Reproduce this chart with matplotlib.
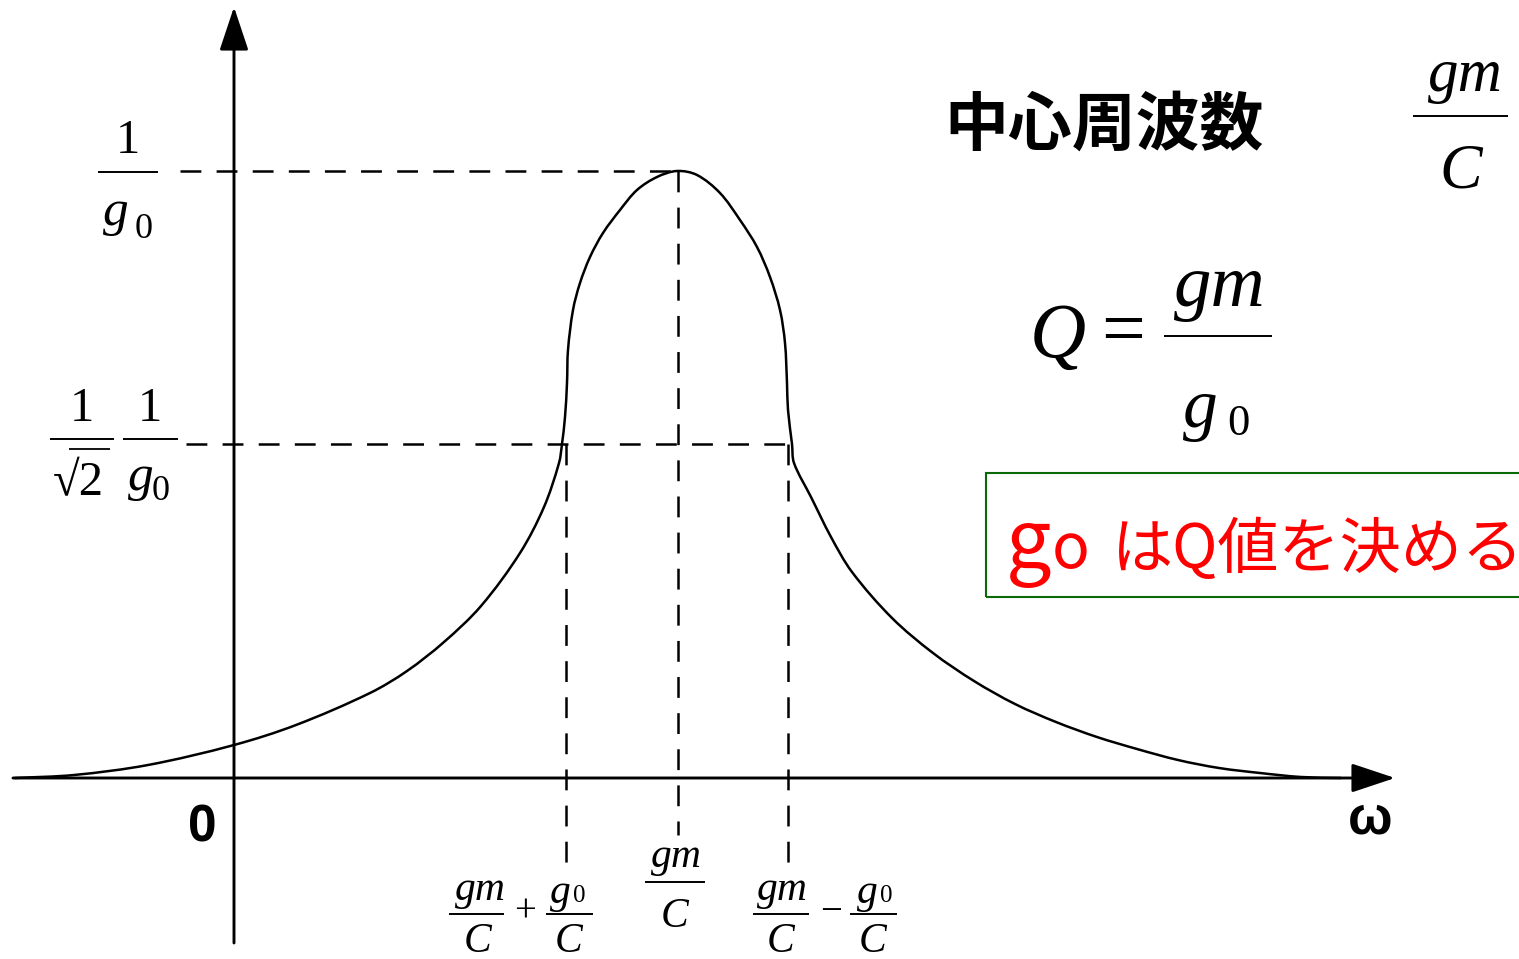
import matplotlib
matplotlib.use("Agg")
import numpy as np
import matplotlib.pyplot as plt
from matplotlib.patches import FancyArrowPatch, Rectangle, PathPatch
from matplotlib.path import Path

plt.rcParams["lines.scale_dashes"] = False

# Resonance curve: angular frequency offset from the origin vs. response height
omega = [-219, -160, -86, 0, 62, 136, 173, 210, 247, 286, 310, 325, 328,
         331, 333, 334, 339, 346, 356, 369, 386, 403, 423, 443, 463, 486,
         506, 523, 536, 546, 551, 553, 554, 558, 560, 577, 597, 618, 658,
         699, 740, 781, 822, 863, 903, 944, 985, 1026, 1067, 1107]
response = [0, 3, 13, 33, 53, 85, 107, 136, 172, 225, 271, 315, 334,
            361, 395, 428, 468, 495, 521, 545, 568, 588, 601, 607, 603, 585,
            558, 531, 501, 468, 435, 395, 368, 334, 315, 281, 241, 206, 160,
            125, 97, 74, 56, 41, 29, 18, 10, 5, 1, 0]

PEAK = 607            # 1 / g0
HALF = 334            # (1/sqrt2)(1/g0)
W_LOW, W_CENTER, W_HIGH = 332, 444, 554

W, H = 1519, 959
X0, Y0 = 234, 778     # where the axes cross, in figure pixels

fig = plt.figure(figsize=(W / 100, H / 100), dpi=100)
ax = fig.add_axes([0, 0, 1, 1])
ax.set_xlim(-X0, W - X0)
ax.set_ylim(Y0 - H, Y0)
ax.axis("off")


def P(px, py):
    return px - X0, Y0 - py


SERIF = "Liberation Serif"


def t(px, py, s, size, ha="center", va="baseline", italic=False, **kw):
    x, y = P(px, py)
    kw.setdefault("family", SERIF)
    ax.text(x, y, s, fontsize=size, ha=ha, va=va,
            style="italic" if italic else "normal", **kw)


def bar(px0, px1, py, lw=1.4):
    x0, y = P(px0, py)
    x1, _ = P(px1, py)
    ax.plot([x0, x1], [y, y], color="k", lw=lw, solid_capstyle="butt")


def arrow(p0, p1):
    ax.add_patch(FancyArrowPatch(P(*p0), P(*p1), mutation_scale=1,
                                 arrowstyle="-|>,head_length=27,head_width=9",
                                 color="k", lw=2.1, shrinkA=0, shrinkB=0))


def smooth_path(xs, ys):
    """Chord-length Hermite curve through the given points, as Bezier segments."""
    pts = np.column_stack([xs, ys]).astype(float)
    seg = np.hypot(*np.diff(pts, axis=0).T)
    tt = np.concatenate([[0], np.cumsum(seg)])
    tang = np.empty_like(pts)
    tang[1:-1] = (pts[2:] - pts[:-2]) / (tt[2:] - tt[:-2])[:, None]
    tang[0] = (pts[1] - pts[0]) / seg[0]
    tang[-1] = (pts[-1] - pts[-2]) / seg[-1]
    verts = [pts[0]]
    codes = [Path.MOVETO]
    for i in range(len(pts) - 1):
        d = seg[i] / 3
        verts += [pts[i] + tang[i] * d, pts[i + 1] - tang[i + 1] * d, pts[i + 1]]
        codes += [Path.CURVE4] * 3
    return Path(verts, codes)


# axes
arrow((13, Y0), (1395, Y0))
arrow((X0, 943), (X0, 7))

# guide lines
dash = dict(color="k", lw=1.8, dashes=(15, 11))
ax.plot([-54, W_CENTER], [PEAK, PEAK], **dash)
ax.plot([-48, W_HIGH + 4], [HALF, HALF], **dash)
ax.plot([W_CENTER, W_CENTER], [PEAK, -57], **dash)
ax.plot([W_LOW, W_LOW], [HALF, -90], **dash)
ax.plot([W_HIGH, W_HIGH], [HALF, -90], **dash)

# response curve
ax.add_patch(PathPatch(smooth_path(omega, response), fill=False,
                       edgecolor="k", lw=1.8, joinstyle="round"))

# y labels
t(128, 153, "1", 35)
bar(98, 158, 172)
t(103, 225, "g", 37, ha="left", italic=True)
t(135, 238, "0", 26, ha="left")

t(82, 421, "1", 35)
bar(50, 114, 439)
t(53, 495, "\u221a2", 35, ha="left")
bar(69, 110, 449, lw=1.3)
t(150, 421, "1", 35)
bar(123, 178, 439)
t(128, 490, "g", 37, ha="left", italic=True)
t(152, 500, "0", 26, ha="left")

# x labels
t(480, 900, "gm", 30, italic=True)
bar(449, 504, 914)
t(478, 952, "C", 30, italic=True)
t(525, 912, "+", 28, va="center")
t(550, 903, "g", 30, ha="left", italic=True)
t(573, 902, "0", 18, ha="left")
bar(546, 593, 914)
t(569, 952, "C", 30, italic=True)

t(676, 867, "gm", 30, italic=True)
bar(645, 705, 882)
t(675, 927, "C", 30, italic=True)

t(782, 900, "gm", 30, italic=True)
bar(753, 809, 914)
t(781, 952, "C", 30, italic=True)
t(831, 912, "\u2212", 28, va="center")
t(857, 903, "g", 30, ha="left", italic=True)
t(880, 902, "0", 18, ha="left")
bar(850, 897, 914)
t(873, 952, "C", 30, italic=True)

t(202, 842, "0", 37, family="Liberation Sans", weight="bold")
t(1370, 833, "\u03c9", 38, family="Liberation Sans", weight="bold")

# centre frequency and Q
t(1104, 126, "中心周波数", 46, va="center", family="Noto Sans CJK JP", weight="bold")
t(1465, 91, "gm", 44, italic=True)
bar(1413, 1508, 116)
t(1461, 187, "C", 46, italic=True)

t(1030, 357, "Q", 56, ha="left", italic=True)
t(1123, 335, "=", 56, va="center")
t(1220, 306, "gm", 54, italic=True)
bar(1164, 1272, 336)
t(1183, 427, "g", 50, ha="left", italic=True)
t(1227, 435, "0", 32, ha="left")

# note box
bx, by = P(986, 597)
ax.add_patch(Rectangle((bx, by), 560, 124, fill=False, edgecolor="#0a6a0a", lw=1.5))
red = dict(color="#ff0000", family="Noto Sans CJK JP")
t(1006, 568, "g", 58, ha="left", **red)
t(1052, 568, "o", 45, ha="left", **red)
t(1112, 568, "はQ値を決める", 44, ha="left", **red)

fig.savefig("out.png", dpi=100)
